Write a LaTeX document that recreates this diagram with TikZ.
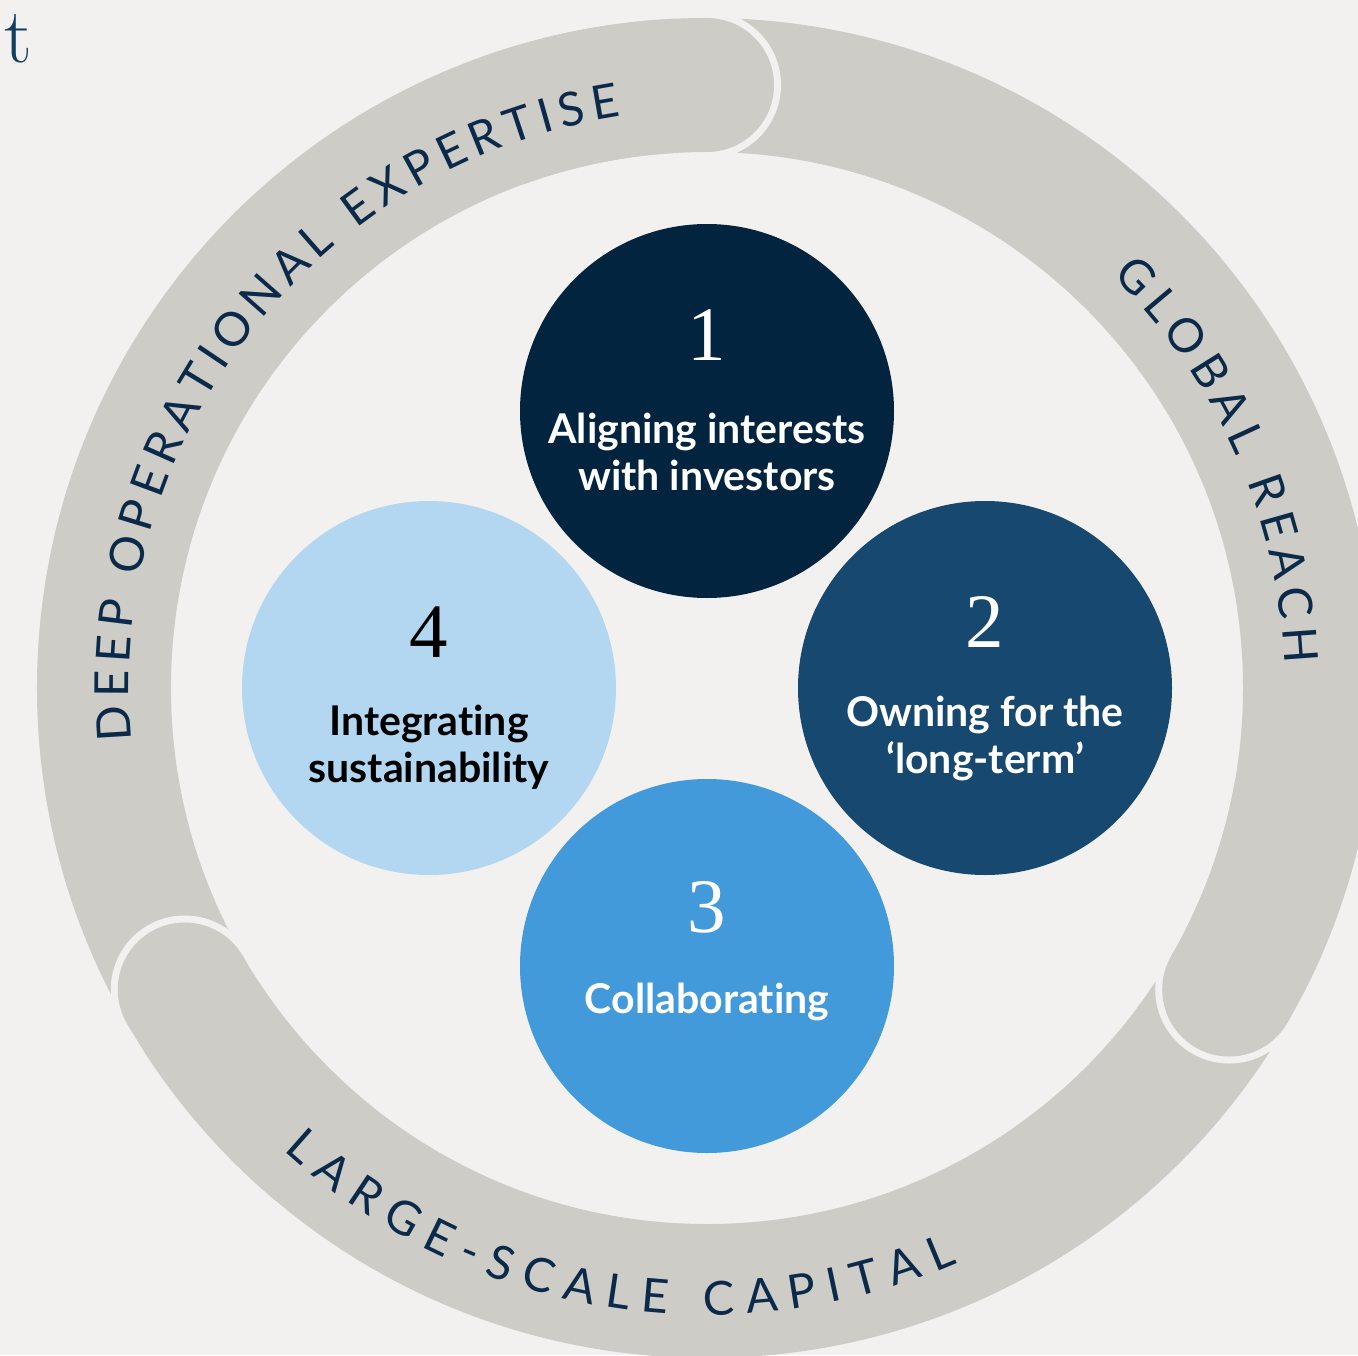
\documentclass[tikz,border=0pt]{standalone}
\usepackage{fontspec}
\setsansfont{Lato}[Ligatures={TeX,NoCommon}]
\newfontfamily\numfont{Liberation Serif}
\usetikzlibrary{decorations.text}

\definecolor{paper}{HTML}{F2F1EF}
\definecolor{ringgray}{HTML}{CDCCC7}
\definecolor{ringink}{HTML}{0B2A4A}
\definecolor{navy}{HTML}{03243F}
\definecolor{deepblue}{HTML}{17486F}
\definecolor{midblue}{HTML}{439ADA}
\definecolor{paleblue}{HTML}{B3D7F1}
\definecolor{headink}{HTML}{133C61}

\begin{document}
\begin{tikzpicture}[x=0.5pt,y=0.5pt]
\tikzset{
  pillar/.style={circle,minimum size=187pt,inner sep=0pt},
  pillarnum/.style={anchor=base,inner sep=0pt,font=\numfont\fontsize{38.5}{38.5}\selectfont},
  pillartext/.style={anchor=base,inner sep=0pt,align=center,font=\sffamily\bfseries\fontsize{20.5}{23.5}\selectfont},
  ringband/.style={draw=ringgray,line width=67pt},
  ringlabel/.style={decorate,decoration={text along path,text align={fit to path},text color=ringink,text={#1}}}
}
\fill[paper] (-707,-667) rectangle (651,688);
\useasboundingbox (-707,-667) rectangle (651,688);

% heading fragment
\node[anchor=base west,inner sep=0pt,text=headink,font=\fontsize{39}{39}\selectfont] (head) at (-703,625) {t};

% outer ring, three bands meeting at 90, 210 and 330 degrees
\draw[ringband] (0,0) circle[radius=603];
\foreach \a in {90,210,330} {
  \fill[paper] (\a:603) circle[radius=74];
  \fill[ringgray] (\a:603) circle[radius=67];
  \draw[ringband] (\a+20:603) arc[start angle=\a+20,end angle=\a,radius=603];
}

% band labels
\path[ringlabel={|\sffamily\fontsize{23.5}{23.5}\selectfont|DEEP OPERATIONAL EXPERTISE}]
  (185.2:578) arc[start angle=185.2,end angle=98.6,radius=578];
\path[ringlabel={|\sffamily\fontsize{23.5}{23.5}\selectfont|GLOBAL REACH}]
  (45.5:578) arc[start angle=45.5,end angle=2.4,radius=578];
\path[ringlabel={|\sffamily\fontsize{23.5}{23.5}\selectfont|LARGE-SCALE CAPITAL}]
  (227.5:627) arc[start angle=227.5,end angle=293.5,radius=627];

% the four pillars
\node[pillar,fill=navy] (p1) at (0,277) {};
\node[pillar,fill=deepblue] (p2) at (278,0) {};
\node[pillar,fill=midblue] (p3) at (0,-278) {};
\node[pillar,fill=paleblue] (p4) at (-278,0) {};

% numbers and captions (a two-line caption sits on its last baseline)
\node[pillarnum,text=white] (p1num) at (0,328) {1};
\node[pillartext,text=white] (p1txt) at (0,198) {Aligning interests\\with investors};
\node[pillarnum,text=white] (p2num) at (278,41) {2};
\node[pillartext,text=white] (p2txt) at (278,-85) {Owning for the\\‘long-term’};
\node[pillarnum,text=white] (p3num) at (0,-244) {3};
\node[pillartext,text=white] (p3txt) at (0,-325) {Collaborating};
\node[pillarnum,text=black] (p4num) at (-278,31) {4};
\node[pillartext,text=black] (p4txt) at (-278,-94) {Integrating\\sustainability};
\end{tikzpicture}
\end{document}
